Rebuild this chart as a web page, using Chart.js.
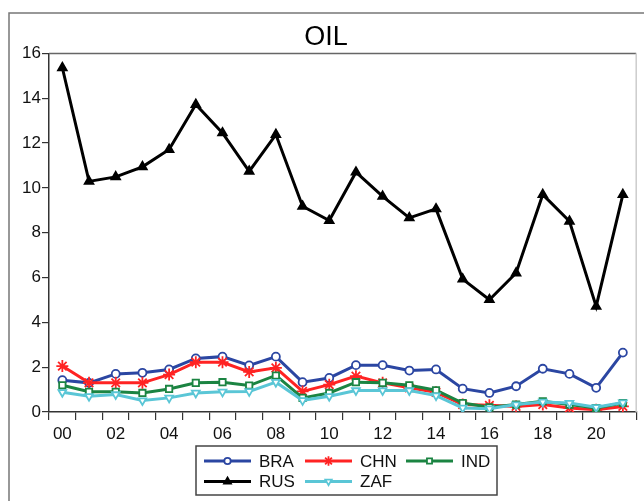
<!DOCTYPE html>
<html lang="en">
<head>
  <meta charset="UTF-8">
  <title>OIL</title>
  <script src="https://cdn.jsdelivr.net/npm/chart.js"></script>
  <style>
    html, body { margin: 0; padding: 0; background: white; }
    #wrap { width: 644px; height: 501px; }
  </style>
</head>
<body>
<div id="wrap"><canvas id="oilChart" width="644" height="501"></canvas></div>

<script>
  // years 2000..2021
  const years = ["00","01","02","03","04","05","06","07","08","09","10","11","12","13","14","15","16","17","18","19","20","21"];

  const bra = [1.42, 1.30, 1.70, 1.75, 1.90, 2.39, 2.47, 2.08, 2.47, 1.33, 1.52, 2.09, 2.09, 1.85, 1.90, 1.04, 0.85, 1.15, 1.93, 1.70, 1.08, 2.65];
  const chn = [2.05, 1.30, 1.30, 1.30, 1.67, 2.22, 2.22, 1.79, 1.97, 0.92, 1.22, 1.60, 1.30, 1.08, 0.88, 0.33, 0.30, 0.25, 0.33, 0.18, 0.10, 0.25];
  const ind = [1.19, 0.90, 0.90, 0.85, 1.03, 1.30, 1.33, 1.18, 1.63, 0.63, 0.85, 1.33, 1.30, 1.19, 0.97, 0.40, 0.21, 0.33, 0.48, 0.33, 0.18, 0.40];
  const rus = [15.36, 10.29, 10.49, 10.94, 11.71, 13.72, 12.45, 10.74, 12.38, 9.18, 8.54, 10.70, 9.62, 8.66, 9.06, 5.93, 5.01, 6.20, 9.70, 8.51, 4.71, 9.70];
  const zaf = [0.88, 0.70, 0.78, 0.51, 0.63, 0.85, 0.90, 0.92, 1.33, 0.52, 0.70, 0.96, 0.96, 0.96, 0.73, 0.18, 0.15, 0.33, 0.45, 0.40, 0.21, 0.42];

  const font = "Arial, 'Liberation Sans', sans-serif";

  function series(label, data, color, style, fill, radius, rot, order) {
    return {
      label: label,
      data: data,
      borderColor: color,
      backgroundColor: color,
      borderWidth: 3,
      pointStyle: style,
      pointBackgroundColor: fill,
      pointBorderColor: color,
      pointBorderWidth: 1.8,
      pointRadius: radius,
      pointRotation: rot,
      tension: 0,
      order: order
    };
  }

  const datasets = [
    series("BRA", bra, "#2b46a2", "circle", "#ffffff", 4, 0, 5),
    series("CHN", chn, "#ff2323", "star", "#ff2323", 6, 0, 4),
    series("IND", ind, "#1b8442", "rect", "#ffffff", 4.5, 0, 3),
    series("RUS", rus, "#000000", "triangle", "#000000", 5, 0, 2),
    series("ZAF", zaf, "#5ac6d6", "triangle", "#ffffff", 4.5, 180, 1)
  ];

  // frame, plot border, legend box
  const framePlugin = {
    id: "frame",
    beforeDraw(chart) {
      const c = chart.ctx;
      c.save();
      c.strokeStyle = "#777";
      c.lineWidth = 1.5;
      c.beginPath();
      c.moveTo(9, 501);
      c.lineTo(9, 13);
      c.lineTo(644, 13);
      c.stroke();
      c.restore();
    },
    afterDraw(chart) {
      const c = chart.ctx;
      const a = chart.chartArea;
      c.save();
      c.strokeStyle = "#666";
      c.lineWidth = 1.5;
      c.beginPath();
      c.moveTo(a.left, a.top);
      c.lineTo(a.right, a.top);
      c.stroke();
      c.strokeStyle = "#ccc";
      c.beginPath();
      c.moveTo(a.right, a.top);
      c.lineTo(a.right, a.bottom);
      c.stroke();

      // legend
      c.strokeStyle = "#444";
      c.lineWidth = 1.5;
      c.strokeRect(196, 446, 301, 49);
      const slots = [[204, 461], [305, 461], [406, 461], [204, 481.5], [305, 481.5]];
      c.font = "17px " + font;
      c.textBaseline = "middle";
      c.textAlign = "left";
      datasets.forEach((ds, i) => {
        const [x, y] = slots[i];
        c.strokeStyle = ds.borderColor;
        c.lineWidth = 3;
        c.beginPath();
        c.moveTo(x, y);
        c.lineTo(x + 47, y);
        c.stroke();
        c.fillStyle = ds.pointBackgroundColor;
        c.strokeStyle = ds.borderColor;
        c.lineWidth = ds.pointBorderWidth;
        Chart.helpers.drawPoint(c, {
          pointStyle: ds.pointStyle,
          rotation: ds.pointRotation,
          radius: ds.pointRadius * 0.8,
          borderWidth: ds.pointBorderWidth
        }, x + 23.5, y);
        c.fillStyle = "#111";
        c.fillText(ds.label, x + 55, y + 1);
      });
      c.restore();
    }
  };

  const chart = new Chart(document.getElementById("oilChart"), {
    type: "line",
    data: { labels: years, datasets: datasets },
    plugins: [framePlugin],
    options: {
      responsive: false,
      animation: false,
      layout: { padding: { left: 9, right: 1, top: 13, bottom: 59 } },
      plugins: {
        legend: { display: false },
        tooltip: { enabled: false },
        title: {
          display: true,
          text: "OIL",
          color: "#000",
          font: { family: font, size: 27, weight: "normal" },
          padding: { top: 8, bottom: 0 }
        }
      },
      scales: {
        x: {
          type: "category",
          offset: true,
          grid: { offset: true, drawOnChartArea: false, drawTicks: true, tickLength: 8, color: "#333", lineWidth: 1.2 },
          border: { display: true, color: "#333", width: 1.5 },
          ticks: {
            autoSkip: false,
            maxRotation: 0,
            padding: 4,
            color: "#111",
            font: { family: font, size: 17 },
            callback: (v, i) => (i % 2 === 0 ? years[i] : "")
          },
          afterFit(scale) { scale.height = 30; }
        },
        y: {
          min: 0,
          max: 16,
          grid: { drawOnChartArea: false, drawTicks: true, tickLength: 7, color: "#333", lineWidth: 1.2 },
          border: { display: true, color: "#333", width: 1.5 },
          ticks: {
            stepSize: 2,
            padding: 1,
            color: "#111",
            font: { family: font, size: 17 }
          },
          afterFit(scale) { scale.width = 40; }
        }
      }
    }
  });
</script>
</body>
</html>
